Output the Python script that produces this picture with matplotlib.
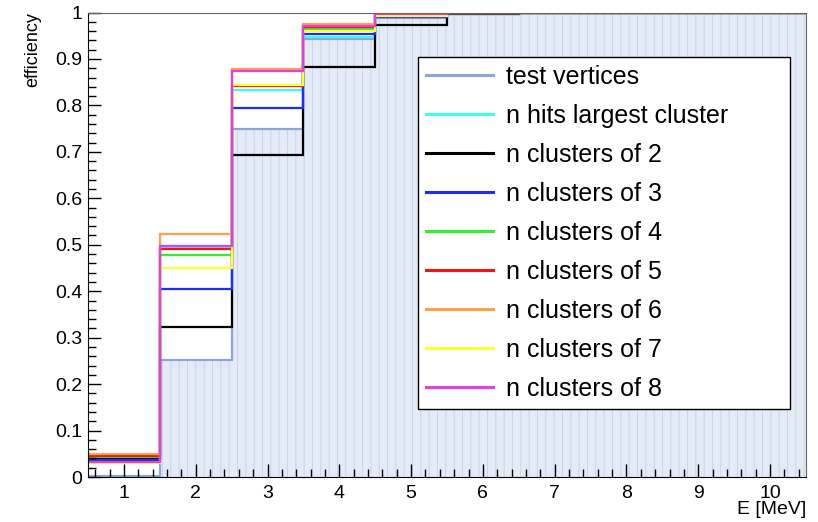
import matplotlib.pyplot as plt
import numpy as np

plt.rcParams['font.family'] = ['Liberation Sans', 'DejaVu Sans']
plt.rcParams['hatch.linewidth'] = 0.6

# energy bins (MeV), 10 bins of 1 MeV
edges = np.arange(0.5, 11.0, 1.0)

test_vertices = [0.002, 0.251, 0.750, 0.944, 0.988, 1.0, 1.0, 1.0, 1.0, 1.0]
hits_largest = [0.039, 0.495, 0.834, 0.948, 0.992, 1.0, 1.0, 1.0, 1.0, 1.0]
clusters_2 = [0.040, 0.322, 0.694, 0.883, 0.974, 0.997, 0.998, 1.0, 1.0, 1.0]
clusters_3 = [0.037, 0.405, 0.795, 0.954, 0.990, 1.0, 1.0, 1.0, 1.0, 1.0]
clusters_4 = [0.043, 0.478, 0.845, 0.965, 0.995, 1.0, 1.0, 1.0, 1.0, 1.0]
clusters_5 = [0.046, 0.491, 0.841, 0.969, 0.996, 1.0, 1.0, 1.0, 1.0, 1.0]
clusters_6 = [0.049, 0.524, 0.879, 0.976, 0.998, 1.0, 1.0, 1.0, 1.0, 1.0]
clusters_7 = [0.030, 0.449, 0.845, 0.961, 0.993, 1.0, 1.0, 1.0, 1.0, 1.0]
clusters_8 = [0.032, 0.498, 0.875, 0.972, 0.997, 1.0, 1.0, 1.0, 1.0, 1.0]

series = [
    (hits_largest, '#33ffff', 'n hits largest cluster'),
    (clusters_2, '#000000', 'n clusters of 2'),
    (clusters_3, '#1a2cff', 'n clusters of 3'),
    (clusters_4, '#33ee33', 'n clusters of 4'),
    (clusters_5, '#ff1010', 'n clusters of 5'),
    (clusters_6, '#ffa04a', 'n clusters of 6'),
    (clusters_7, '#ffff33', 'n clusters of 7'),
    (clusters_8, '#e63ce6', 'n clusters of 8'),
]

fig = plt.figure(figsize=(8.18, 5.22), dpi=100)
ax = fig.add_axes([0.1076, 0.0862, 0.8777, 0.8898])

# filled reference histogram
ax.stairs(test_vertices, edges, fill=True, facecolor='#e5ebf6',
          edgecolor='#c3d1ec', hatch='||', linewidth=0)
ax.stairs(test_vertices, edges, baseline=None, color='#8da6d8',
          linewidth=1.6, label='test vertices')

for vals, col, lab in series:
    ax.stairs(vals, edges, baseline=None, color=col, linewidth=1.6, label=lab)

ax.set_xlim(0.5, 10.5)
ax.set_ylim(0, 1)
ax.set_xticks(range(1, 11))
ax.set_xticks(np.arange(0.6, 10.5, 0.2), minor=True)
ax.set_yticks(np.arange(0, 1.01, 0.1))
ax.set_yticklabels(['0', '0.1', '0.2', '0.3', '0.4', '0.5', '0.6', '0.7',
                    '0.8', '0.9', '1'])
ax.set_yticks(np.arange(0, 1.001, 0.02), minor=True)
ax.tick_params(which='both', direction='in', top=False, right=False,
               labelsize=14, width=1)
ax.tick_params(which='major', length=9.5)
ax.tick_params(which='minor', length=5.5)
ax.tick_params(axis='x', pad=6)
ax.tick_params(axis='y', pad=4)
ax.spines['right'].set_color('#666666')
ax.spines['top'].set_color('#666666')

ax.set_ylabel('efficiency', fontsize=13)
ax.yaxis.set_label_coords(-0.065, 1.0)
ax.yaxis.label.set_horizontalalignment('right')
ax.set_xlabel('E [MeV]', fontsize=14)
ax.xaxis.set_label_coords(1.0, -0.071)
ax.xaxis.label.set_horizontalalignment('right')
ax.xaxis.label.set_verticalalignment('center')

leg = ax.legend(loc='upper left', bbox_to_anchor=(0.46, 0.151, 0.518, 0.753),
                mode='expand', fontsize=18, frameon=True, fancybox=False,
                framealpha=1, edgecolor='black', handlelength=2.65,
                labelspacing=0.6, borderpad=0.32, handletextpad=0.52,
                borderaxespad=0)
leg.get_frame().set_linewidth(1.0)
for line in leg.get_lines():
    line.set_linewidth(2.2)

fig.savefig('out.png', dpi=100)
